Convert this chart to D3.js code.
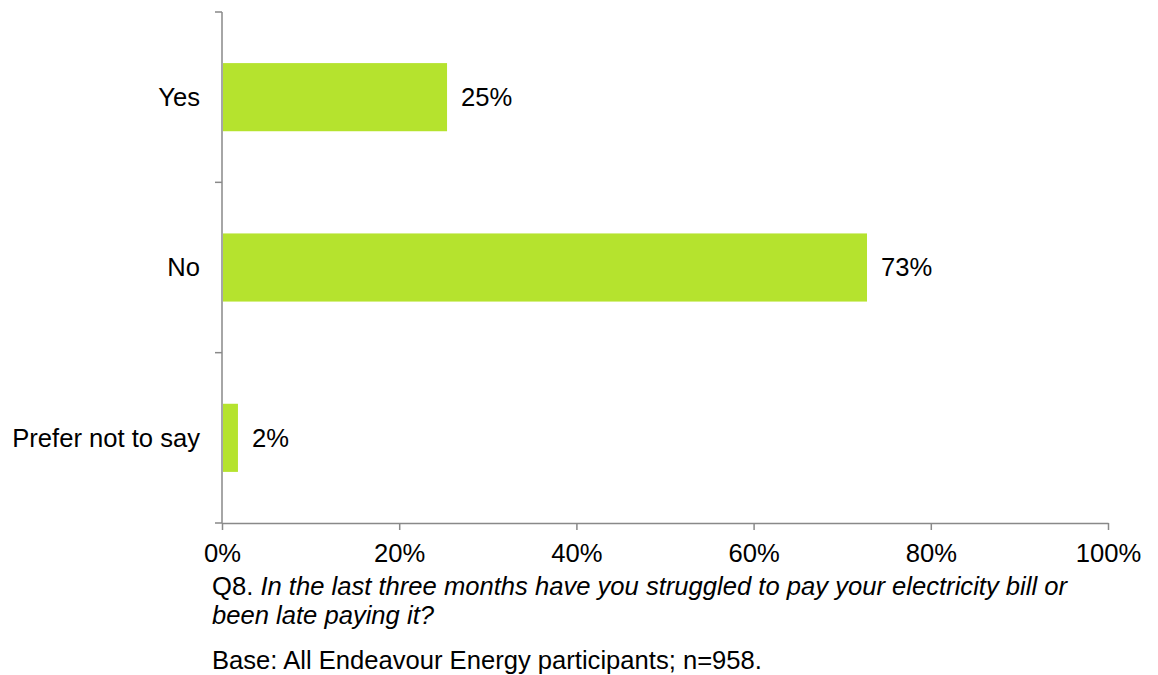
<!DOCTYPE html>
<html>
<head>
<meta charset="utf-8">
<script src="https://cdn.jsdelivr.net/npm/d3@7"></script>
<style>
  html, body { margin: 0; padding: 0; background: #fff; }
  svg { display: block; font-family: "Liberation Sans", Arial, sans-serif; }
</style>
</head>
<body>
<svg id="chart" width="1158" height="675"></svg>
<script>
// Survey responses (percent of participants)
const categories = ["Yes", "No", "Prefer not to say"];
const values = [25.4, 72.8, 1.8];
const tickValues = [0, 20, 40, 60, 80, 100];
const questionLabel = "Q8.";
const questionText = ["In the last three months have you struggled to pay your electricity bill or", "been late paying it?"];
const baseText = "Base: All Endeavour Energy participants; n=958.";

const svg = d3.select("#chart");
const margin = { left: 222, right: 50, top: 12, bottom: 152 };
const W = 1158, H = 675;
const fontSize = 25.6;

const x = d3.scaleLinear().domain([0, 100]).range([margin.left, W - margin.right]);
const y = d3.scaleBand().domain(categories).range([margin.top, H - margin.bottom]).paddingInner(0.6).paddingOuter(0.3);

const axisColor = "#898989";

// bars
svg.append("g").selectAll("rect").data(values).join("rect")
  .attr("x", x(0) + 1)
  .attr("y", (d, i) => y(categories[i]))
  .attr("width", d => x(d) - x(0) - 1)
  .attr("height", y.bandwidth())
  .attr("fill", "#b5e32e");

// value labels
svg.append("g").selectAll("text").data(values).join("text")
  .attr("x", d => x(d) + 14)
  .attr("y", (d, i) => y(categories[i]) + y.bandwidth() / 2)
  .attr("dy", "0.35em")
  .attr("font-size", fontSize)
  .attr("fill", "#000")
  .text(d => d3.format(".0f")(d) + "%");

// x axis
const xAxis = svg.append("g")
  .attr("transform", `translate(0,${H - margin.bottom})`)
  .call(d3.axisBottom(x).tickValues(tickValues).tickFormat(d => d + "%").tickSize(7).tickSizeOuter(0).tickPadding(14));
xAxis.select(".domain").attr("stroke", axisColor).attr("stroke-width", 1.5);
xAxis.selectAll(".tick line").attr("stroke", axisColor).attr("stroke-width", 1.5);
xAxis.selectAll(".tick text").attr("font-size", fontSize).attr("fill", "#000").attr("font-family", "Liberation Sans, Arial, sans-serif");

// y axis: ticks on the boundaries between categories
const yEdges = d3.scaleLinear().domain([0, categories.length]).range([margin.top, H - margin.bottom]);
const yAxisG = svg.append("g").attr("transform", `translate(${margin.left},0)`);
yAxisG.append("line")
  .attr("x1", 0).attr("x2", 0)
  .attr("y1", yEdges(0)).attr("y2", yEdges(categories.length))
  .attr("stroke", axisColor).attr("stroke-width", 1.5);
yAxisG.selectAll("line.tick").data(d3.range(categories.length + 1)).join("line")
  .attr("class", "tick")
  .attr("x1", -7).attr("x2", 0)
  .attr("y1", d => yEdges(d)).attr("y2", d => yEdges(d))
  .attr("stroke", axisColor).attr("stroke-width", 1.5);
yAxisG.selectAll("text").data(categories).join("text")
  .attr("x", -22)
  .attr("y", d => y(d) + y.bandwidth() / 2)
  .attr("dy", "0.35em")
  .attr("text-anchor", "end")
  .attr("font-size", fontSize)
  .attr("fill", "#000")
  .text(d => d);

// footnote
const note = svg.append("g").attr("font-size", fontSize).attr("fill", "#000");
const l1 = note.append("text").attr("x", 212).attr("y", 595);
l1.append("tspan").text(questionLabel + " ");
l1.append("tspan").attr("font-style", "italic").text(questionText[0]);
note.append("text").attr("x", 212).attr("y", 624).attr("font-style", "italic").text(questionText[1]);
note.append("text").attr("x", 212).attr("y", 669).text(baseText);
</script>
</body>
</html>
